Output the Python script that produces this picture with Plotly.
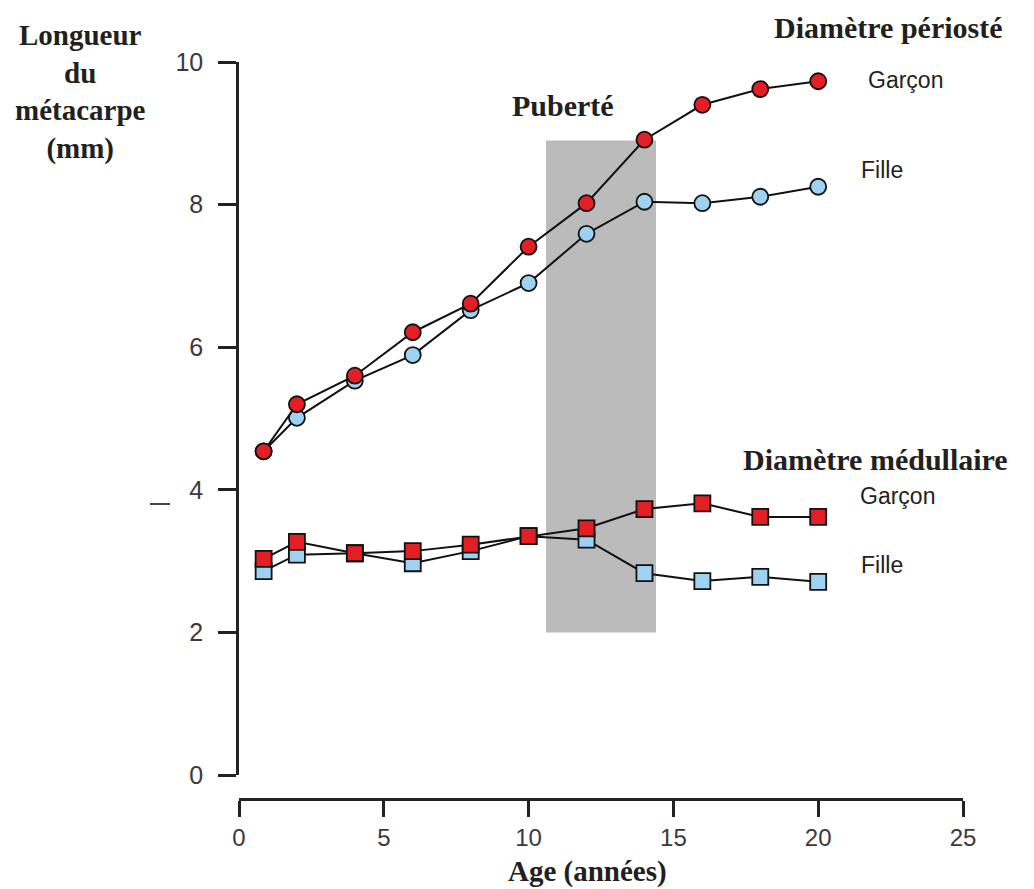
import plotly.graph_objects as go

# Data (age in years, diameter in mm)
ages = [0.85, 2, 4, 6, 8, 10, 12, 14, 16, 18, 20]
perioste_garcon = [4.54, 5.20, 5.60, 6.21, 6.61, 7.41, 8.02, 8.91, 9.40, 9.62, 9.73]
perioste_fille = [4.54, 5.01, 5.53, 5.89, 6.52, 6.90, 7.59, 8.04, 8.02, 8.11, 8.25]
medullaire_garcon = [3.03, 3.27, 3.11, 3.14, 3.23, 3.35, 3.46, 3.73, 3.81, 3.62, 3.62]
medullaire_fille = [2.86, 3.09, 3.11, 2.97, 3.14, 3.35, 3.30, 2.83, 2.72, 2.78, 2.71]
puberty_x = [10.6, 14.4]
puberty_y = [2.0, 8.9]
x_ticks = [0, 5, 10, 15, 20, 25]
y_ticks = [0, 2, 4, 6, 8, 10]

RED = "#e31e24"
BLUE = "#9dd3f0"
SERIF = "Liberation Serif, Times New Roman, serif"
SANS = "Liberation Sans, Arial, sans-serif"

fig = go.Figure()

def add(y, color, symbol):
    fig.add_trace(go.Scatter(
        x=ages, y=y, mode="lines+markers",
        line=dict(color="#111111", width=2),
        marker=dict(symbol=symbol, size=16, color=color,
                    line=dict(color="#111111", width=1.8)),
        cliponaxis=False, showlegend=False))

add(medullaire_fille, BLUE, "square")
add(medullaire_garcon, RED, "square")
add(perioste_fille, BLUE, "circle")
add(perioste_garcon, RED, "circle")

fig.add_shape(type="rect", x0=puberty_x[0], x1=puberty_x[1], y0=puberty_y[0], y1=puberty_y[1],
              xref="x", yref="y", fillcolor="#bbbbbb", line=dict(width=0), layer="below")

OFF = 8  # page body margin
W, H = 1034 - OFF, 889 - OFF
# plot area in page pixels: x 239..963, x-axis line at y 799, y range 62..775
L = 239 - OFF
T = 62 - OFF
R = W - (963 - OFF)
B = H - (799 - OFF)
pw, ph = W - L - R, H - T - B

def px(x):
    return (x - OFF - L) / pw

def py(y):
    return (H - B - (y - OFF)) / ph

ann = [
    dict(text="<b>Longueur<br>du<br>métacarpe<br>(mm)</b>", x=80, y=92, size=29, font=SERIF),
    dict(text="<b>Diamètre périosté</b>", x=888, y=27, size=30, font=SERIF),
    dict(text="<b>Puberté</b>", x=563, y=106, size=30, font=SERIF),
    dict(text="<b>Diamètre médullaire</b>", x=875, y=459, size=30, font=SERIF),
    dict(text="<b>Age (années)</b>", x=587, y=871, size=29, font=SERIF),
    dict(text="Garçon", x=905, y=80, size=23, font=SANS),
    dict(text="Fille", x=882, y=170, size=23, font=SANS),
    dict(text="Garçon", x=897, y=496, size=23, font=SANS),
    dict(text="Fille", x=882, y=565, size=23, font=SANS),
]

for a in ann:
    fig.add_annotation(text=a["text"], xref="paper", yref="paper",
                       x=px(a["x"]), y=py(a["y"]),
                       xanchor="center", yanchor="middle", showarrow=False,
                       font=dict(family=a["font"], size=a["size"], color="#231f20"))

# small stray dash left of the axis (scan artifact)
fig.add_shape(type="line", xref="paper", yref="paper",
              x0=px(150), x1=px(170), y0=py(504), y1=py(504),
              line=dict(color="#444444", width=2))

fig.update_layout(
    width=W, height=H, margin=dict(l=L, r=R, t=T, b=B, pad=0),
    plot_bgcolor="white", paper_bgcolor="white",
    xaxis=dict(range=[0, 25], tickvals=x_ticks, showgrid=False, zeroline=False,
               showline=True, linecolor="#222222", linewidth=2.5,
               ticks="outside", ticklen=16, tickwidth=2.5, tickcolor="#222222",
               anchor="free", position=0, ticklabelstandoff=0,
               tickfont=dict(family=SANS, size=24, color="#3a3a3a")),
    yaxis=dict(range=[0, 10], tickvals=y_ticks, showgrid=False, zeroline=False,
               domain=[(H - B - (775 - OFF)) / ph, 1],
               showline=True, linecolor="#222222", linewidth=2.5,
               ticks="outside", ticklen=18, tickwidth=2.5, tickcolor="#222222",
               ticklabelstandoff=10,
               tickfont=dict(family=SANS, size=25, color="#3a3a3a")),
)

fig.write_html("out.html")
